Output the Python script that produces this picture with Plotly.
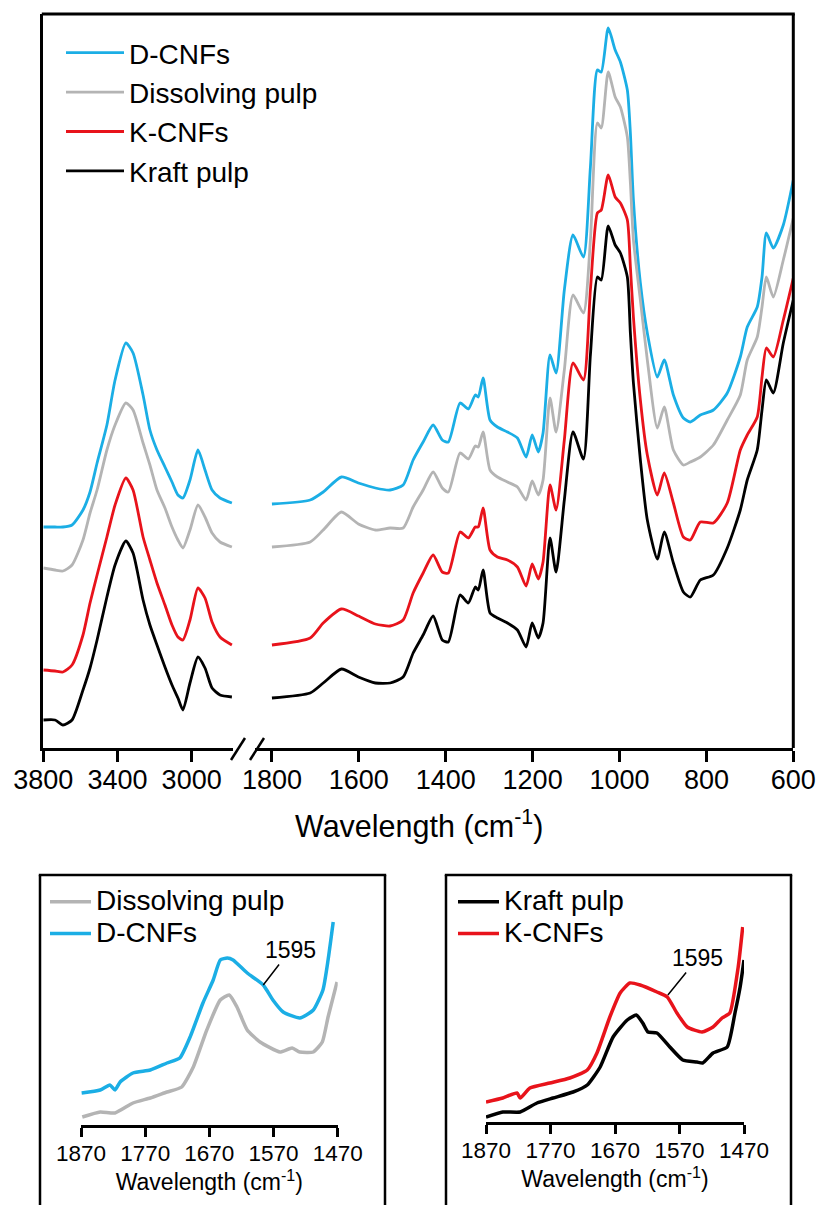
import plotly.graph_objects as go

W, H = 820, 1205
FONT = "Liberation Sans, Arial, sans-serif"

# ---------------- data (arbitrary absorbance units, offset traces) ----------------
# main panel, high-wavenumber segment
wn_high = [3800, 3737, 3694, 3645, 3586, 3548, 3510, 3457, 3413, 3355, 3316, 3262,
           3225, 3187, 3144, 3106, 3074, 3047, 3009, 2966, 2928, 2890, 2847, 2783]
dcnf_high = [221, 221, 221, 223, 238, 256, 285, 323, 368, 405, 395, 353,
             318, 298, 281, 266, 253, 250, 268, 298, 278, 258, 250, 245]
dpulp_high = [180, 178, 177, 183, 208, 235, 258, 298, 323, 345, 338, 305,
              283, 258, 240, 221, 208, 200, 218, 243, 231, 215, 206, 201]
kcnf_high = [78, 77, 76, 83, 113, 145, 173, 211, 243, 270, 258, 211,
             188, 165, 143, 123, 111, 108, 128, 160, 150, 126, 111, 103]
kpulp_high = [28, 28, 23, 28, 58, 80, 108, 151, 183, 207, 195, 148,
              123, 103, 81, 63, 50, 38, 65, 91, 80, 60, 53, 51]

# main panel, fingerprint segment
wn_low = [1800, 1712, 1682, 1640, 1601, 1562, 1528, 1498, 1475, 1452, 1429, 1408, 1394, 1367,
          1348, 1332, 1325, 1314, 1298, 1281, 1258, 1235, 1215, 1201, 1187, 1176, 1160, 1146,
          1127, 1107, 1083, 1067, 1051, 1042, 1026, 1010, 998, 982, 975, 968, 952, 936, 913,
          897, 876, 853, 837, 814, 784, 752, 722, 706, 683, 672, 662, 646, 623, 600]
dcnf_low = [244, 248, 256, 271, 265, 260, 258, 263, 288, 306, 323, 308, 306, 345,
            339, 353, 351, 370, 328, 321, 316, 310, 291, 313, 296, 315, 393, 375,
            458, 513, 491, 581, 678, 676, 720, 698, 686, 658, 615, 548, 465, 415, 371,
            388, 353, 330, 326, 333, 338, 355, 391, 421, 441, 471, 515, 500, 523, 568]
dpulp_low = [201, 206, 218, 236, 224, 218, 220, 220, 241, 258, 276, 260, 256, 295,
             289, 302, 301, 316, 278, 271, 266, 261, 248, 267, 253, 268, 350, 316,
             378, 453, 435, 508, 625, 620, 676, 651, 641, 611, 565, 508, 448, 388, 320,
             341, 298, 283, 286, 291, 303, 328, 353, 388, 411, 441, 471, 451, 488, 530]
kcnf_low = [103, 110, 125, 139, 132, 124, 122, 128, 155, 175, 193, 176, 175, 216,
            210, 221, 221, 240, 198, 191, 188, 181, 162, 184, 169, 186, 263, 238,
            308, 385, 368, 458, 535, 538, 573, 551, 545, 528, 481, 431, 348, 293, 253,
            275, 245, 211, 208, 226, 225, 245, 298, 313, 331, 371, 400, 391, 428, 470]
kpulp_low = [50, 55, 65, 79, 71, 65, 65, 71, 95, 113, 132, 108, 106, 153,
             145, 161, 158, 178, 135, 130, 125, 118, 101, 125, 110, 125, 210, 176,
             248, 316, 289, 393, 471, 468, 522, 503, 495, 471, 415, 365, 288, 228, 189,
             216, 185, 156, 151, 168, 173, 200, 238, 268, 298, 338, 368, 355, 405, 448]

# inset (dissolving pulp / D-CNFs)
dpulp_inset_wn = [1868, 1840, 1817, 1789, 1762, 1736, 1713, 1695, 1674, 1653, 1639,
                  1627, 1611, 1591, 1560, 1541, 1529, 1508, 1494, 1485, 1471]
dpulp_inset = [8, 13, 12, 22, 27, 33, 38, 58, 95, 125, 130,
               118, 95, 83, 73, 77, 73, 73, 83, 108, 143]
dcnf_inset_wn = [1869, 1840, 1825, 1817, 1809, 1789, 1762, 1736, 1716, 1700, 1680, 1664,
                 1653, 1642, 1633, 1611, 1586, 1571, 1555, 1529, 1508, 1493, 1485, 1477]
dcnf_inset = [32, 35, 40, 35, 43, 52, 55, 62, 67, 88, 122, 145,
              165, 167, 165, 152, 140, 125, 113, 107, 115, 135, 165, 203]

# inset (kraft pulp / K-CNFs)
kpulp_inset_wn = [1870, 1844, 1817, 1791, 1766, 1735, 1713, 1693, 1673, 1651, 1637, 1627,
                  1619, 1605, 1585, 1565, 1543, 1534, 1518, 1496, 1484, 1476, 1470]
kpulp_inset = [5, 10, 10, 19, 24, 30, 37, 55, 85, 102, 107, 99,
               90, 89, 75, 62, 60, 59, 69, 75, 109, 135, 162]
kcnf_inset_wn = [1870, 1844, 1822, 1817, 1802, 1771, 1740, 1713, 1698, 1678, 1662, 1647,
                 1631, 1605, 1589, 1574, 1558, 1535, 1518, 1504, 1492, 1479, 1472]
kcnf_inset = [20, 24, 29, 24, 34, 39, 44, 52, 69, 105, 129, 139,
              137, 130, 125, 109, 95, 90, 95, 104, 109, 155, 195]

ticks_high = [3800, 3400, 3000]
ticks_low = [1800, 1600, 1400, 1200, 1000, 800, 600]
ticks_inset = [1870, 1770, 1670, 1570, 1470]
peak_label = "1595"
peak_d = (1586, 140)
peak_k = (1588, 127)

BLUE, GREY, RED, BLACK = "#1BAEE5", "#B4B4B4", "#E8131B", "#000000"


def fx(p):
    return p / W


def fy(p):
    return 1 - p / H


fig = go.Figure()

main_series = [("D-CNFs", BLUE, dcnf_high, dcnf_low),
               ("Dissolving pulp", GREY, dpulp_high, dpulp_low),
               ("K-CNFs", RED, kcnf_high, kcnf_low),
               ("Kraft pulp", BLACK, kpulp_high, kpulp_low)]
for name, col, yh, yl in main_series:
    fig.add_trace(go.Scatter(x=wn_high, y=yh, mode="lines", name=name, legendgroup=name,
                             line=dict(color=col, width=2.8, shape="spline", smoothing=0.6),
                             xaxis="x", yaxis="y", legend="legend"))
    fig.add_trace(go.Scatter(x=wn_low, y=yl, mode="lines", name=name, legendgroup=name,
                             showlegend=False,
                             line=dict(color=col, width=2.8, shape="spline", smoothing=0.6),
                             xaxis="x2", yaxis="y"))

span = '<span style="font-size:28px">{}</span>'
fig.add_trace(go.Scatter(x=dpulp_inset_wn, y=dpulp_inset, mode="lines",
                         name=span.format("Dissolving pulp"),
                         line=dict(color=GREY, width=3.5, shape="spline", smoothing=0.5),
                         xaxis="x3", yaxis="y3", legend="legend2"))
fig.add_trace(go.Scatter(x=dcnf_inset_wn, y=dcnf_inset, mode="lines",
                         name=span.format("D-CNFs"),
                         line=dict(color=BLUE, width=3.5, shape="spline", smoothing=0.5),
                         xaxis="x3", yaxis="y3", legend="legend2"))
fig.add_trace(go.Scatter(x=kpulp_inset_wn, y=kpulp_inset, mode="lines",
                         name=span.format("Kraft pulp"),
                         line=dict(color=BLACK, width=3.5, shape="spline", smoothing=0.5),
                         xaxis="x4", yaxis="y4", legend="legend3"))
fig.add_trace(go.Scatter(x=kcnf_inset_wn, y=kcnf_inset, mode="lines",
                         name=span.format("K-CNFs"),
                         line=dict(color=RED, width=3.5, shape="spline", smoothing=0.5),
                         xaxis="x4", yaxis="y4", legend="legend3"))

tickfont_main = dict(family=FONT, size=27, color="black")
tickfont_inset = dict(family=FONT, size=22.5, color="black")
common_main_x = dict(showline=True, linewidth=3, linecolor="black", ticks="outside",
                     ticklen=11, tickwidth=2.5, tickcolor="black", showgrid=False,
                     zeroline=False, tickfont=tickfont_main, anchor="y",
                     automargin=False, ticklabelstandoff=-5)
inset_x = dict(showline=True, linewidth=2.5, linecolor="black", ticks="outside",
               ticklen=9, tickwidth=2.5, tickcolor="black", showgrid=False, zeroline=False,
               tickfont=tickfont_inset, range=[1870, 1470], tickvals=ticks_inset,
               automargin=False, ticklabelstandoff=-3,
               title=dict(text="Wavelength (cm<sup>-1</sup>)",
                          font=dict(family=FONT, size=23, color="black"), standoff=7))

fig.update_layout(
    template="none",
    width=W, height=H, autosize=False,
    margin=dict(l=0, r=0, t=0, b=0, pad=0),
    paper_bgcolor="white", plot_bgcolor="white",
    font=dict(family=FONT, color="black"),
    xaxis=dict(domain=[fx(43.3), fx(233)], range=[3800, 2777], tickvals=ticks_high,
               **common_main_x),
    xaxis2=dict(domain=[fx(255), fx(793.3)], range=[1839, 600], tickvals=ticks_low,
                **common_main_x),
    yaxis=dict(domain=[fy(748), fy(14)], range=[0, 734], anchor="x", showline=True,
               linewidth=3, linecolor="black", showticklabels=False, ticks="",
               showgrid=False, zeroline=False, automargin=False),
    xaxis3=dict(domain=[fx(81), fx(337.7)], anchor="y3", **inset_x),
    yaxis3=dict(domain=[fy(1125), fy(905)], range=[0, 220], anchor="x3", visible=False,
                automargin=False),
    xaxis4=dict(domain=[fx(486), fx(744)], anchor="y4", **inset_x),
    yaxis4=dict(domain=[fy(1122), fy(902)], range=[0, 220], anchor="x4", visible=False,
                automargin=False),
    legend=dict(x=fx(61), y=fy(28), xanchor="left", yanchor="top", itemwidth=58,
                font=dict(family=FONT, size=28, color="black"), bgcolor="rgba(0,0,0,0)",
                borderwidth=0, traceorder="normal", tracegroupgap=0),
    legend2=dict(x=fx(45), y=fy(881), xanchor="left", yanchor="top", itemwidth=41,
                 font=dict(family=FONT, size=22, color="black"), bgcolor="rgba(0,0,0,0)",
                 borderwidth=0, traceorder="normal"),
    legend3=dict(x=fx(453), y=fy(881), xanchor="left", yanchor="top", itemwidth=41,
                 font=dict(family=FONT, size=22, color="black"), bgcolor="rgba(0,0,0,0)",
                 borderwidth=0, traceorder="normal"),
    showlegend=True,
)

# main x-axis title (spans both segments)
fig.add_annotation(text="Wavelength (cm<sup>-1</sup>)", xref="paper", yref="paper",
                   x=fx(419), y=fy(824), xanchor="center", yanchor="middle",
                   showarrow=False, font=dict(family=FONT, size=30.5, color="black"))

# 1595 markers in the insets
fig.add_annotation(text=peak_label, x=peak_d[0], y=peak_d[1], xref="x3", yref="y3",
                   showarrow=True, arrowhead=0, arrowwidth=1.5, arrowcolor="black",
                   ax=27, ay=-35, font=dict(family=FONT, size=23, color="black"))
fig.add_annotation(text=peak_label, x=peak_k[0], y=peak_k[1], xref="x4", yref="y4",
                   showarrow=True, arrowhead=0, arrowwidth=1.5, arrowcolor="black",
                   ax=30, ay=-37, font=dict(family=FONT, size=23, color="black"))

line_k = dict(color="black", width=3)
shapes = [
    # main frame: top and right
    dict(type="line", xref="paper", yref="paper", x0=fx(41.8), x1=fx(794.8), y0=fy(14), y1=fy(14), line=line_k),
    dict(type="line", xref="paper", yref="paper", x0=fx(793.3), x1=fx(793.3), y0=fy(14), y1=fy(748), line=line_k),
    # axis-break slashes
    dict(type="line", xref="paper", yref="paper", x0=fx(231), x1=fx(245), y0=fy(760), y1=fy(738), line=dict(color="black", width=2.5)),
    dict(type="line", xref="paper", yref="paper", x0=fx(250), x1=fx(264), y0=fy(760), y1=fy(738), line=dict(color="black", width=2.5)),
]
box_line = dict(color="black", width=2.5)
for x0, x1 in [(40, 385), (446, 791)]:
    shapes += [
        dict(type="line", xref="paper", yref="paper", x0=fx(x0 - 1.2), x1=fx(x1 + 1.2), y0=fy(875), y1=fy(875), line=box_line),
        dict(type="line", xref="paper", yref="paper", x0=fx(x0), x1=fx(x0), y0=fy(875), y1=fy(1215), line=box_line),
        dict(type="line", xref="paper", yref="paper", x0=fx(x1), x1=fx(x1), y0=fy(875), y1=fy(1215), line=box_line),
    ]
fig.update_layout(shapes=shapes)

fig.write_html("out.html")
